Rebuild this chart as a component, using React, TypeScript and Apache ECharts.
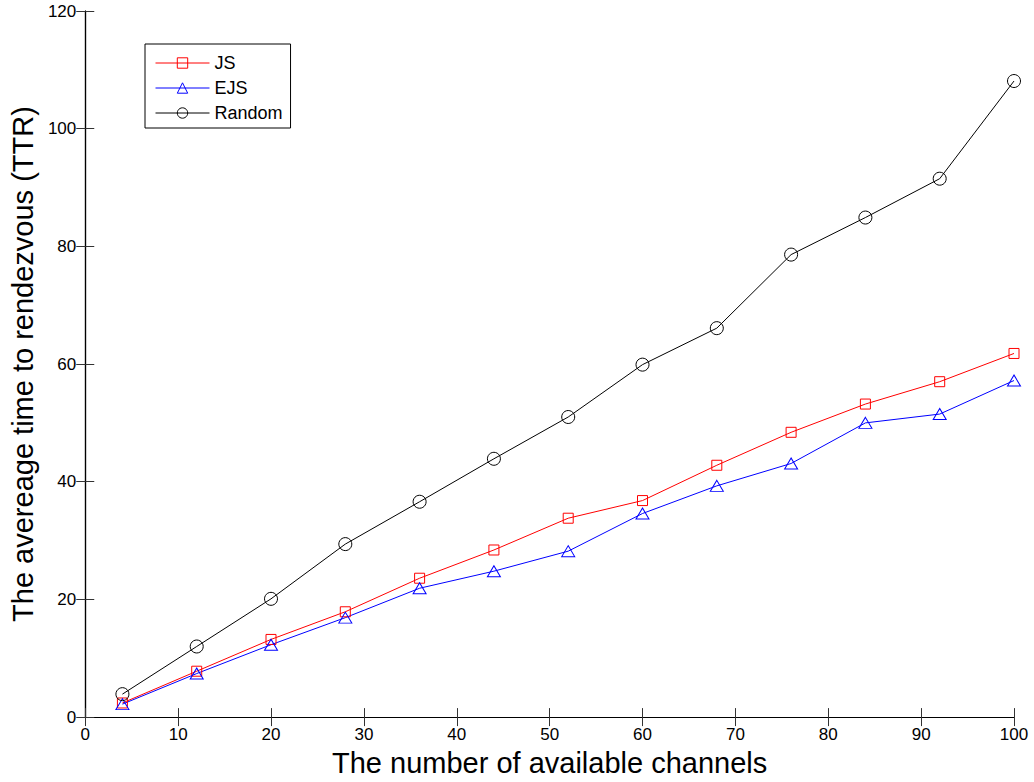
import React, { useEffect, useRef } from "react";
import * as echarts from "echarts";

const channels = [4, 12, 20, 28, 36, 44, 52, 60, 68, 76, 84, 92, 100];
const jsValues = [2.4, 7.8, 13.2, 17.9, 23.6, 28.4, 33.8, 36.8, 42.8, 48.4, 53.2, 57.0, 61.8];
const ejsValues = [2.2, 7.4, 12.3, 16.9, 21.9, 24.8, 28.2, 34.6, 39.3, 43.1, 50.0, 51.5, 57.2];
const randomValues = [3.9, 12.0, 20.1, 29.4, 36.6, 43.9, 51.0, 59.9, 66.1, 78.6, 84.9, 91.5, 108.1];

const FONT = "Liberation Sans, Arial, Helvetica, sans-serif";

export default function App() {
  const ref = useRef<HTMLDivElement>(null);
  useEffect(() => {
    if (!ref.current) return;
    document.body.style.margin = "0";
    document.body.style.overflow = "hidden";
    const chart = echarts.init(ref.current, undefined, { renderer: "svg", width: 1034, height: 782 });
    const pair = (vals: number[]) => channels.map((c, i) => [c, vals[i]]);
    const axisLine = { show: true, lineStyle: { color: "#000", width: 1.2 } };
    const tick = { show: true, inside: true, length: 9, lineStyle: { color: "#333", width: 1 } };
    const mk = (name: string, vals: number[], color: string, symbol: string, size: number | number[]) => ({
      name,
      type: "line",
      data: pair(vals),
      symbol,
      symbolSize: size,
      color,
      lineStyle: { width: 1, color },
      itemStyle: { color: "rgba(0,0,0,0)", borderColor: color, borderWidth: 1 },
      emphasis: { disabled: true },
    });
    chart.setOption({
      animation: false,
      backgroundColor: "#fff",
      grid: { left: 84, top: 11, width: 930, height: 712, containLabel: false },
      legend: {
        left: 145,
        top: 44,
        orient: "vertical",
        itemWidth: 54,
        itemHeight: 13,
        itemGap: 7,
        padding: [10, 8, 6, 10],
        borderColor: "#000",
        borderWidth: 1,
        backgroundColor: "#fff",
        itemStyle: { borderWidth: 1 },
        lineStyle: { width: 1 },
        textStyle: { fontFamily: FONT, fontSize: 18, color: "#000" },
        data: ["JS", "EJS", "Random"],
      },
      xAxis: [
        {
          type: "value",
          min: 0,
          max: 100,
          interval: 10,
          position: "bottom",
          axisLine,
          axisTick: tick,
          splitLine: { show: false },
          axisLabel: { fontFamily: FONT, fontSize: 17, color: "#000", margin: 9 },
          name: "The number of available channels",
          nameLocation: "middle",
          nameGap: 28,
          nameTextStyle: { fontFamily: FONT, fontSize: 29, color: "#000" },
        },
        {
          type: "value",
          min: 0,
          max: 100,
          interval: 10,
          position: "top",
          axisLine,
          axisTick: tick,
          splitLine: { show: false },
          axisLabel: { show: false },
        },
      ],
      yAxis: [
        {
          type: "value",
          min: 0,
          max: 120,
          interval: 20,
          position: "left",
          axisLine,
          axisTick: tick,
          splitLine: { show: false },
          axisLabel: { fontFamily: FONT, fontSize: 17, color: "#000", margin: 9 },
          name: "The avereage time to rendezvous (TTR)",
          nameLocation: "middle",
          nameGap: 45,
          nameTextStyle: { fontFamily: FONT, fontSize: 29, color: "#000" },
        },
        {
          type: "value",
          min: 0,
          max: 120,
          interval: 20,
          position: "right",
          axisLine,
          axisTick: tick,
          splitLine: { show: false },
          axisLabel: { show: false },
        },
      ],
      series: [
        mk("JS", jsValues, "#ff0000", "rect", 10),
        mk("EJS", ejsValues, "#0000ff", "triangle", [13, 11]),
        mk("Random", randomValues, "#000000", "circle", 13),
      ],
    });
    return () => chart.dispose();
  }, []);
  return (
    <div
      ref={ref}
      style={{ width: 1034, height: 782, position: "absolute", left: 0, top: 0, overflow: "hidden", lineHeight: 0 }}
    />
  );
}
